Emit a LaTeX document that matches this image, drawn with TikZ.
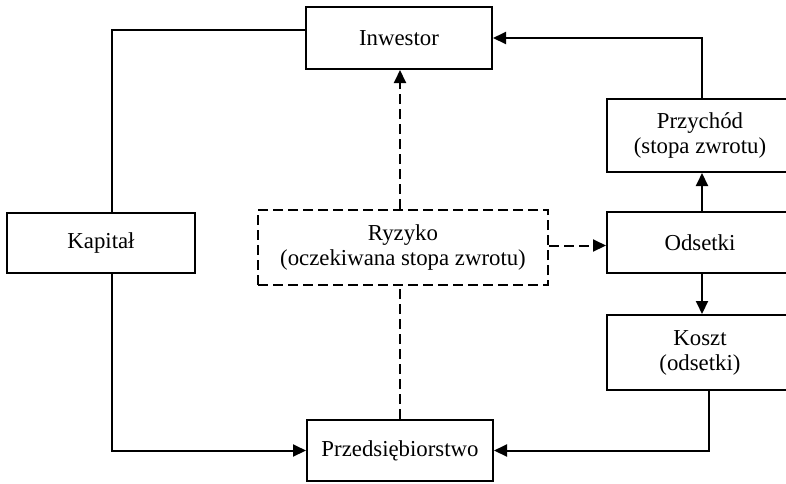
\documentclass[tikz,border=0pt]{standalone}
\usepackage{fontspec}
\setmainfont{Liberation Serif}
\usetikzlibrary{arrows.meta,calc}
\begin{document}
\begin{tikzpicture}[x=1pt,y=-1pt,
  box/.style={draw,line width=2pt,rectangle,inner sep=0pt,align=center,
    font=\fontsize{22.8}{25}\selectfont},
  conn/.style={line width=2pt},
  tip/.style={-{Triangle[length=13pt,width=12pt]}},
  dsh/.style={dash pattern=on 10pt off 5pt}]
\useasboundingbox (0,0) rectangle (786,483);
\node[box,minimum width=186pt,minimum height=62pt] (inw) at (399,38) {Inwestor};
\node[box,minimum width=188pt,minimum height=60pt] (kap) at (101,243) {Kapitał};
\node[box,dsh,minimum width=290pt,minimum height=75pt] (ryz) at (403,247.5) {Ryzyko\\(oczekiwana stopa zwrotu)};
\node[box,minimum width=186pt,minimum height=73pt] (przy) at (700,135.5) {Przychód\\(stopa zwrotu)};
\node[box,minimum width=186pt,minimum height=61pt] (ods) at (700,242.5) {Odsetki};
\node[box,minimum width=186pt,minimum height=75pt] (kosz) at (700,352.5) {Koszt\\(odsetki)};
\node[box,minimum width=186pt,minimum height=61pt] (prz) at (400,450.5) {Przedsiębiorstwo};
% solid connectors
\draw[conn] ([yshift=8pt]inw.west) -| ([xshift=11pt]kap.north);
\draw[conn,tip] ([xshift=11pt]kap.south) |- (prz.west);
\draw[conn,tip] ([xshift=2pt]przy.north) |- (inw.east);
\draw[conn,tip] ([xshift=2pt]ods.north) -- ([xshift=2pt]przy.south);
\draw[conn,tip] ([xshift=2pt]ods.south) -- ([xshift=2pt]kosz.north);
\draw[conn,tip] ([xshift=9pt]kosz.south) |- (prz.east);
% dashed connectors
\draw[conn,dsh,tip] (ryz.north -| prz.north) -- (inw.south -| prz.north);
\draw[conn,dsh] (prz.north) -- (ryz.south -| prz.north);
\draw[conn,dsh,tip] ([yshift=2pt]ryz.east) -- ([yshift=2pt]ryz.east -| ods.west);
\end{tikzpicture}
\end{document}
